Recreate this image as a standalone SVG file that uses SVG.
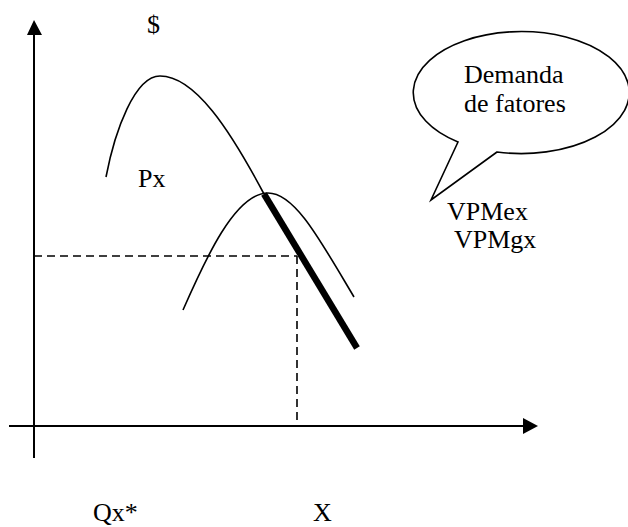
<svg xmlns="http://www.w3.org/2000/svg" width="628" height="527" viewBox="0 0 628 527">
<style>
.t{font-family:"Liberation Serif","Times New Roman",serif;font-size:26px;fill:#000}
.ln{fill:none;stroke:#000;stroke-width:1.6}
.ax{fill:none;stroke:#000;stroke-width:2}
.dash{fill:none;stroke:#000;stroke-width:1.6;stroke-dasharray:8 5}
</style>
<rect width="628" height="527" fill="#fff"/>
<g id="axes">
<line class="ax" x1="34" y1="34" x2="34" y2="458"/>
<polygon points="34,20 27,35 42,35" fill="#000"/>
<line class="ax" x1="9" y1="426" x2="524" y2="426"/>
<polygon points="538,426 523,418 523,434" fill="#000"/>
</g>
<g id="guides">
<line class="dash" x1="34" y1="256" x2="297" y2="256"/>
<line class="dash" x1="297" y1="256" x2="297" y2="420"/>
</g>
<g id="curve-px">
<path class="ln" d="M106,177 C115,130 135,76 160,76 C195,76 230,130 264,194"/>
</g>
<g id="curve-vpm">
<path class="ln" d="M183,310 C205,260 235,193 268,193 C295,193 320,240 354,297"/>
</g>
<g id="demand">
<line x1="264" y1="194" x2="357" y2="348" stroke="#000" stroke-width="6.5"/>
</g>
<g id="bubble">
<path class="ln" d="M497,152 L431,200 L458,142 A108,61 0 1 1 497,152 Z" fill="#fff"/>
<text class="t" x="464" y="83">Demanda</text>
<text class="t" x="464" y="112">de fatores</text>
</g>
<g id="labels">
<text class="t" x="147" y="33">$</text>
<text class="t" x="138" y="187">Px</text>
<text class="t" x="447" y="220">VPMex</text>
<text class="t" x="454" y="248">VPMgx</text>
<text class="t" x="93" y="521">Qx*</text>
<text class="t" x="313" y="521">X</text>
</g>
</svg>
